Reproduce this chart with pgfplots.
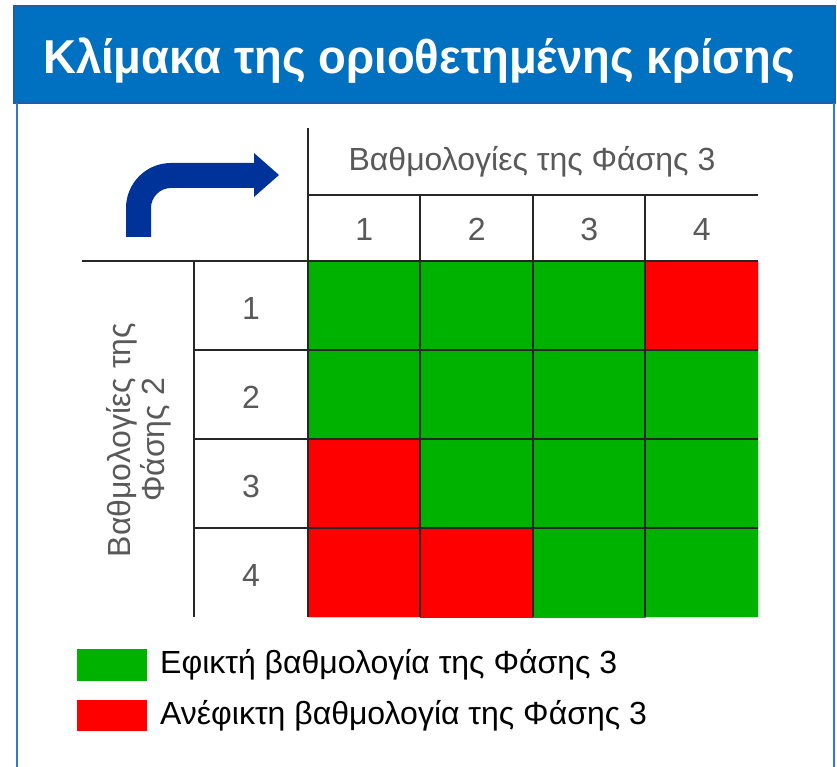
\documentclass[border=0pt]{standalone}
\usepackage{fontspec}
\setmainfont{Liberation Sans}
\usepackage{graphicx}
\usepackage{pgfplots}
\pgfplotsset{compat=1.18}
\definecolor{cgreen}{HTML}{00B200}
\definecolor{cred}{HTML}{FF0000}
\definecolor{cband}{HTML}{0070C0}
\definecolor{cbandline}{HTML}{1F5FA8}
\definecolor{cframe}{HTML}{2E7BD0}
\definecolor{carrow}{HTML}{003399}
\definecolor{cgrey}{HTML}{595959}
\begin{document}
\begin{tikzpicture}[x=1pt,y=1pt]
\useasboundingbox (0,0) rectangle (837,766);
\fill[white] (0,0) rectangle (837,766);

% title band and frame
\fill[cband] (14,663) rectangle (835,760);
\draw[cbandline, line width=1.2pt] (14,663) rectangle (835,760);
\draw[cframe, line width=1.6pt] (17,663) -- (17,-2);
\draw[cframe, line width=1.6pt] (834,663) -- (834,-2);
\node[anchor=base west, inner sep=0pt, text=white] at (43,692)
  {\resizebox{752pt}{\height}{\bfseries\fontsize{47.5}{56}\selectfont Κλίμακα της οριοθετημένης κρίσης}};

\begin{axis}[
  at={(308pt,149pt)}, anchor=south west,
  scale only axis, width=450pt, height=356pt,
  xmin=0.5, xmax=4.5, ymin=0.5, ymax=4.5,
  y dir=reverse, enlargelimits=false,
  axis line style={draw=none}, major tick length=0pt,
  xtick={1,2,3,4}, ytick={1,2,3,4},
  xticklabels={1,2,3,4}, yticklabels={1,2,3,4},
  xticklabel pos=upper,
  /pgf/number format/assume math mode=true,
  tick label style={font=\fontsize{32}{38}\selectfont, text=cgrey},
  xticklabel style={anchor=center, yshift=32pt},
  yticklabel style={anchor=center, xshift=-57pt, yshift=-3pt},
  colormap={gr}{color(0)=(cred) color(1)=(cgreen)},
  point meta min=0, point meta max=1,
]
\addplot[matrix plot*, mesh/cols=4, point meta=explicit] table[meta=c] {
x y c
1 1 1
2 1 1
3 1 1
4 1 0
1 2 1
2 2 1
3 2 1
4 2 1
1 3 0
2 3 1
3 3 1
4 3 1
1 4 0
2 4 0
3 4 1
4 4 1
};
\end{axis}

% table lines
\begin{scope}[line width=1.5pt, black!85]
\draw (308,638) -- (308,149);
\draw (194,505) -- (194,149);
\foreach \xx in {420,533,645} \draw (\xx,571) -- (\xx,149);
\draw (308,571) -- (758,571);
\draw (82,505) -- (758,505);
\foreach \yy in {416,327,238} \draw (194,\yy) -- (758,\yy);
\end{scope}

% header texts
\node[text=cgrey, font=\fontsize{32}{38}\selectfont] at (532,604) {Βαθμολογίες της Φάσης 3};
\node[text=cgrey, font=\fontsize{32}{34}\selectfont, rotate=90, align=center] at (139,326)
  {Βαθμολογίες της\\Φάσης 2};

% bent arrow
\fill[carrow] (126,529) -- (126,558) arc[start angle=180, end angle=90, radius=45]
  -- (254,603) -- (254,613) -- (279,591) -- (254,569) -- (254,578)
  -- (171,578) arc[start angle=90, end angle=180, radius=20] -- (151,529) -- cycle;

% legend
\fill[cgreen] (77,85) rectangle (147,117);
\fill[cred] (77,35) rectangle (147,66);
\node[anchor=west, inner sep=0pt, font=\fontsize{32}{38}\selectfont] at (160,101) {Εφικτή βαθμολογία της Φάσης 3};
\node[anchor=west, inner sep=0pt, font=\fontsize{32}{38}\selectfont] at (160,50) {Ανέφικτη βαθμολογία της Φάσης 3};
\end{tikzpicture}
\end{document}
